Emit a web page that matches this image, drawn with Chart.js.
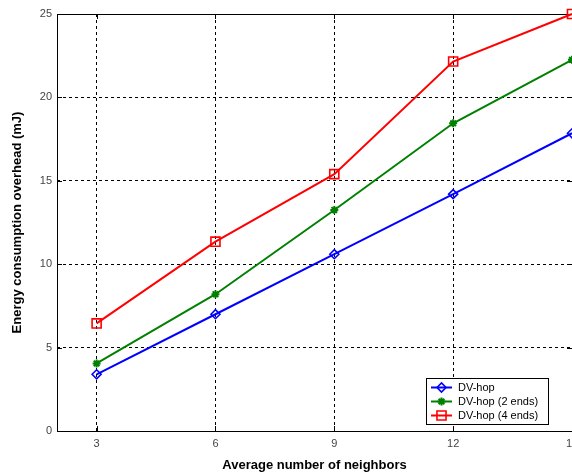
<!DOCTYPE html>
<html>
<head>
<meta charset="utf-8">
<title>Energy consumption overhead</title>
<script src="https://cdn.jsdelivr.net/npm/chart.js@4/dist/chart.umd.min.js"></script>
<style>
  html, body { margin: 0; padding: 0; background: #fff; overflow: hidden; }
  #wrap { position: relative; width: 580px; height: 475px; }
</style>
</head>
<body>
<div id="wrap"><canvas id="c" width="580" height="475"></canvas></div>
<script>
// Average number of neighbors (x) and energy overhead in mJ (y)
const neighbors = [3, 6, 9, 12, 15];
const dvHop      = [3.4, 7.0, 10.6, 14.2, 17.85];
const dvHop2Ends = [4.05, 8.2, 13.25, 18.45, 22.25];
const dvHop4Ends = [6.45, 11.35, 15.4, 22.15, 25.0];

const xTicks = [3, 6, 9, 12, 15];
const yTicks = [0, 5, 10, 15, 20, 25];

const seriesNames = ['DV-hop', 'DV-hop (2 ends)', 'DV-hop (4 ends)'];

const toPoints = vals => neighbors.map((n, i) => ({ x: n, y: vals[i] }));

const tickFont = { family: 'Liberation Sans, Arial, sans-serif', size: 11 };
const titleFont = { family: 'Liberation Sans, Arial, sans-serif', size: 13, weight: 'bold' };

// Plot frame with inward tick marks
const framePlugin = {
  id: 'frame',
  beforeDatasetsDraw(chart) {
    const { ctx, chartArea: a, scales } = chart;
    ctx.save();
    ctx.strokeStyle = '#000';
    ctx.lineWidth = 1;
    ctx.setLineDash([]);
    ctx.beginPath();
    yTicks.forEach(v => {
      const y = Math.round(scales.y.getPixelForValue(v)) + 0.5;
      ctx.moveTo(a.left, y); ctx.lineTo(a.left + 5, y);
      ctx.moveTo(a.right, y); ctx.lineTo(a.right - 5, y);
    });
    xTicks.forEach(v => {
      const x = Math.round(scales.x.getPixelForValue(v)) + 0.5;
      ctx.moveTo(x, a.bottom); ctx.lineTo(x, a.bottom - 5);
      ctx.moveTo(x, a.top); ctx.lineTo(x, a.top + 5);
    });
    ctx.stroke();
    ctx.strokeRect(Math.round(a.left) + 0.5, Math.round(a.top) + 0.5,
                   Math.round(a.right - a.left), Math.round(a.bottom - a.top));
    ctx.restore();
  }
};

// Boxed legend inside the lower right of the plot
const boxLegendPlugin = {
  id: 'boxLegend',
  afterDraw(chart) {
    const { ctx } = chart;
    const bx = 426, by = 378, bw = 122, bh = 46;
    ctx.save();
    ctx.setLineDash([]);
    ctx.fillStyle = '#fff';
    ctx.fillRect(bx, by, bw, bh);
    ctx.strokeStyle = '#000';
    ctx.lineWidth = 1;
    ctx.strokeRect(bx + 0.5, by + 0.5, bw, bh);
    ctx.font = '11px Liberation Sans, Arial, sans-serif';
    ctx.textBaseline = 'middle';
    ctx.textAlign = 'left';
    chart.data.datasets.forEach((ds, i) => {
      const y = by + 9.5 + i * 14;
      ctx.strokeStyle = ds.borderColor;
      ctx.lineWidth = ds.borderWidth;
      ctx.beginPath();
      ctx.moveTo(bx + 5, y); ctx.lineTo(bx + 26, y);
      ctx.stroke();
      ctx.fillStyle = ds.pointBackgroundColor;
      ctx.strokeStyle = ds.borderColor;
      ctx.lineWidth = ds.pointBorderWidth;
      Chart.helpers.drawPoint(ctx, {
        pointStyle: ds.pointStyle, radius: ds.pointRadius, rotation: 0,
        borderWidth: ds.pointBorderWidth
      }, bx + 15.5, y);
      ctx.fillStyle = '#000';
      ctx.fillText(seriesNames[i], bx + 32, y + 0.5);
    });
    ctx.restore();
  }
};

const zeroPad = s => { s.paddingLeft = 0; s.paddingRight = 0; s.paddingTop = 0; s.paddingBottom = 0; };

new Chart(document.getElementById('c'), {
  type: 'line',
  data: {
    datasets: [
      {
        label: seriesNames[0], data: toPoints(dvHop),
        borderColor: '#0000ff', borderWidth: 2,
        pointStyle: 'rectRot', pointRadius: 4.5, pointBorderWidth: 1.6,
        pointBackgroundColor: 'rgba(255,255,255,0)', pointBorderColor: '#0000ff'
      },
      {
        label: seriesNames[1], data: toPoints(dvHop2Ends),
        borderColor: '#008000', borderWidth: 2,
        pointStyle: 'star', pointRadius: 4, pointBorderWidth: 2,
        pointBackgroundColor: '#008000', pointBorderColor: '#008000'
      },
      {
        label: seriesNames[2], data: toPoints(dvHop4Ends),
        borderColor: '#ff0000', borderWidth: 2,
        pointStyle: 'rect', pointRadius: 6.4, pointBorderWidth: 1.6,
        pointBackgroundColor: 'rgba(255,255,255,0)', pointBorderColor: '#ff0000'
      }
    ]
  },
  options: {
    responsive: false,
    animation: false,
    events: [],
    clip: false,
    layout: { padding: { left: 0, right: 7, top: 14, bottom: 0 } },
    plugins: { legend: { display: false }, tooltip: { enabled: false } },
    scales: {
      x: {
        type: 'linear', min: 2, max: 15,
        afterBuildTicks: s => { s.ticks = xTicks.map(v => ({ value: v })); },
        afterFit: s => { s.height = 44; zeroPad(s); },
        border: { display: false, dash: [3, 3] },
        grid: { color: '#000', lineWidth: 1, drawTicks: false },
        ticks: { color: '#444', font: tickFont, padding: 6, maxRotation: 0, autoSkip: false },
        title: { display: true, text: 'Average number of neighbors', color: '#000', font: titleFont, padding: { top: 0, bottom: 2 } }
      },
      y: {
        type: 'linear', min: 0, max: 25,
        afterBuildTicks: s => { s.ticks = yTicks.map(v => ({ value: v })); },
        afterFit: s => { s.width = 57; zeroPad(s); },
        border: { display: false, dash: [3, 3] },
        grid: { color: '#000', lineWidth: 1, drawTicks: false },
        ticks: { color: '#444', font: tickFont, padding: 5 },
        title: { display: true, text: 'Energy consumption overhead (mJ)', color: '#000', font: titleFont, padding: { top: 10, bottom: 0 } }
      }
    }
  },
  plugins: [framePlugin, boxLegendPlugin]
});
</script>
</body>
</html>
